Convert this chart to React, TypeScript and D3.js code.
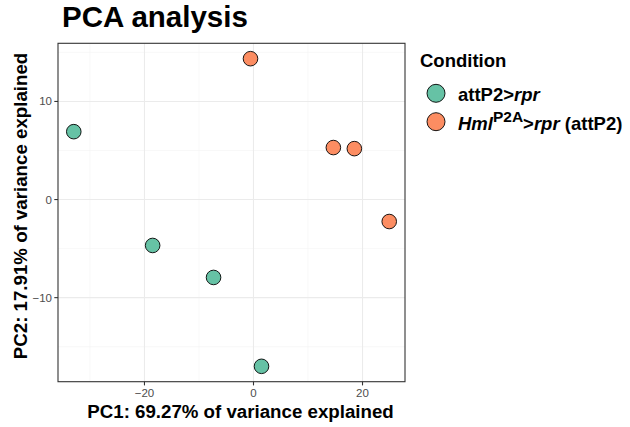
import React from "react";
import * as d3 from "d3";

const conditions = ["attP2>rpr", "HmlP2A>rpr (attP2)"];
const colors = ["#66C2A5", "#FC8D62"];
const pc1 = [-32.97, -18.5, -7.33, 1.47, -0.55, 14.65, 18.5, 24.9];
const pc2 = [6.92, -4.68, -7.94, -17.0, 14.36, 5.3, 5.19, -2.24];
const group = [0, 0, 0, 0, 1, 1, 1, 1];
const xMajor = [-20, 0, 20];
const xMinor = [-30, -10, 10];
const yMajor = [-10, 0, 10];
const yMinor = [-15, -5, 5, 15];

export default function App() {
  const W = 630, H = 427;
  const L = 58, R = 405, T = 43.3, B = 381.7;
  const [x0, x1] = d3.extent(pc1) as [number, number];
  const [y0, y1] = d3.extent(pc2) as [number, number];
  const ex = (x1 - x0) * 0.05, ey = (y1 - y0) * 0.05;
  const x = d3.scaleLinear().domain([x0 - ex, x1 + ex]).range([L, R]);
  const y = d3.scaleLinear().domain([y0 - ey, y1 + ey]).range([B, T]);
  const font = "Liberation Sans, Arial, sans-serif";
  const fmt = (v: number) => (v < 0 ? "\u2212" + Math.abs(v) : String(v));
  return (
    <svg width={W} height={H} style={{ position: "absolute", left: 0, top: 0 }} fontFamily={font}>
      <rect width={W} height={H} fill="white" />
      <text x={62} y={27} fontSize={29.5} fontWeight="bold" fill="#000">PCA analysis</text>
      {xMinor.map((v) => (
        <line key={"xm" + v} x1={x(v)} x2={x(v)} y1={T} y2={B} stroke="#F3F3F3" strokeWidth={0.6} />
      ))}
      {yMinor.map((v) => (
        <line key={"ym" + v} y1={y(v)} y2={y(v)} x1={L} x2={R} stroke="#F3F3F3" strokeWidth={0.6} />
      ))}
      {xMajor.map((v) => (
        <line key={"xM" + v} x1={x(v)} x2={x(v)} y1={T} y2={B} stroke="#EBEBEB" strokeWidth={1.1} />
      ))}
      {yMajor.map((v) => (
        <line key={"yM" + v} y1={y(v)} y2={y(v)} x1={L} x2={R} stroke="#EBEBEB" strokeWidth={1.1} />
      ))}
      {pc1.map((v, i) => (
        <circle key={i} cx={x(v)} cy={y(pc2[i])} r={7.3} fill={colors[group[i]]} stroke="#000" strokeWidth={0.9} />
      ))}
      <rect x={L} y={T} width={R - L} height={B - T} fill="none" stroke="#333333" strokeWidth={1.1} />
      {xMajor.map((v) => (
        <g key={"xt" + v}>
          <line x1={x(v)} x2={x(v)} y1={B} y2={B + 3.7} stroke="#333333" strokeWidth={1.1} />
          <text x={x(v)} y={B + 15.5} fontSize={11.5} textAnchor="middle" fill="#4D4D4D">{fmt(v)}</text>
        </g>
      ))}
      {yMajor.map((v) => (
        <g key={"yt" + v}>
          <line x1={L - 3.7} x2={L} y1={y(v)} y2={y(v)} stroke="#333333" strokeWidth={1.1} />
          <text x={L - 6} y={y(v) + 4} fontSize={11.5} textAnchor="end" fill="#4D4D4D">{fmt(v)}</text>
        </g>
      ))}
      <text x={(L + R) / 2 + 9} y={418} fontSize={18.7} fontWeight="bold" textAnchor="middle" fill="#000">PC1: 69.27% of variance explained</text>
      <text transform={`translate(27,${206}) rotate(-90)`} fontSize={18.7} fontWeight="bold" textAnchor="middle" fill="#000">PC2: 17.91% of variance explained</text>
      <text x={420} y={67} fontSize={18.5} fontWeight="bold" fill="#000">Condition</text>
      <circle cx={436} cy={93.3} r={9} fill={colors[0]} stroke="#000" strokeWidth={0.9} />
      <circle cx={436} cy={121.7} r={9} fill={colors[1]} stroke="#000" strokeWidth={0.9} />
      <text x={458} y={101} fontSize={18.5} fontWeight="bold" fill="#000">attP2&gt;<tspan fontStyle="italic">rpr</tspan></text>
      <text x={458} y={129.5} fontSize={18.5} fontWeight="bold" fill="#000">
        <tspan fontStyle="italic">Hml</tspan>
        <tspan fontSize={15.5} dy={-8}>P2A</tspan>
        <tspan dy={8}>&gt;</tspan>
        <tspan fontStyle="italic">rpr</tspan> (attP2)
      </text>
    </svg>
  );
}
